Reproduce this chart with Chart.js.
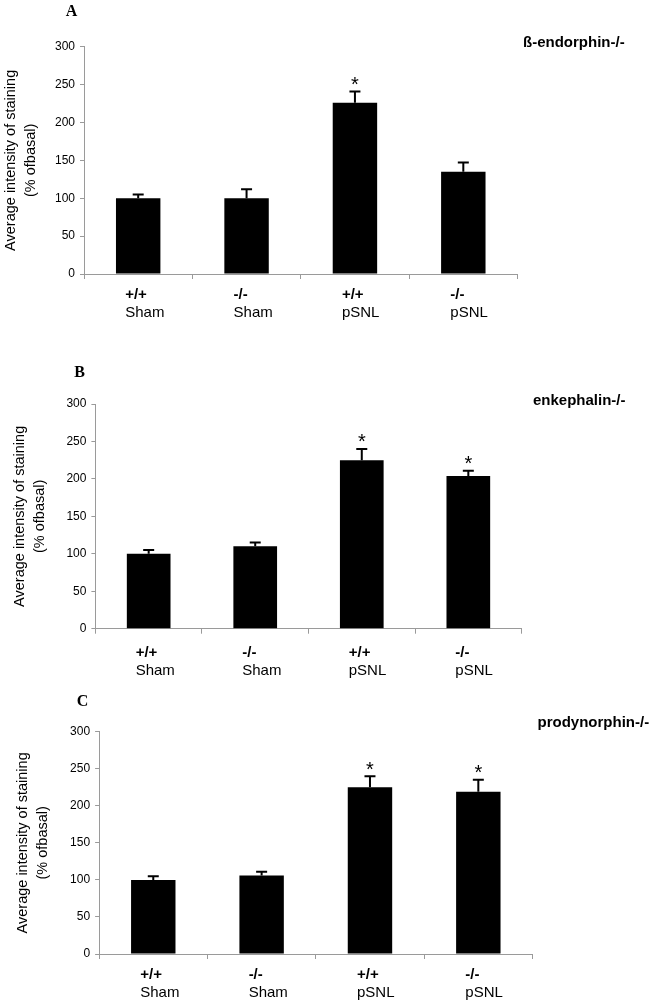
<!DOCTYPE html>
<html>
<head>
<meta charset="utf-8">
<script src="https://cdn.jsdelivr.net/npm/chart.js@4.4.1/dist/chart.umd.min.js"></script>
<style>
  body { margin: 0; background: #fff; }
  #wrap { position: relative; width: 651px; height: 1005px; overflow: hidden; }
  canvas { position: absolute; left: 0; }
</style>
</head>
<body>
<div id="wrap">
  <canvas id="panelA" width="651" height="330" style="top:0px"></canvas>
  <canvas id="panelB" width="651" height="360" style="top:330px"></canvas>
  <canvas id="panelC" width="651" height="335" style="top:670px"></canvas>
</div>
<script>
// categories
const genotypes = ["+/+", "-/-", "+/+", "-/-"];
const conditions = ["Sham", "Sham", "pSNL", "pSNL"];
const yTicks = [0, 50, 100, 150, 200, 250, 300];
const yTitle = ["Average intensity of staining", "(% ofbasal)"];

// A: ß-endorphin-/-
const meanA = [100, 100, 226, 135];
const semA = [5, 12, 15, 12];
const sigA = [false, false, true, false];

// B: enkephalin-/-
const meanB = [100, 110, 225, 204];
const semB = [5, 5, 15, 7];
const sigB = [false, false, true, true];

// C: prodynorphin-/-
const meanC = [100, 106, 225, 219];
const semC = [5, 5, 15, 16];
const sigC = [false, false, true, true];

const SANS = '"Liberation Sans", Arial, sans-serif';
const SERIF = '"Liberation Serif", "Times New Roman", serif';
const AXIS = "#9a9a9a";

// error bars, asterisks, x labels, panel letter and title
const panelDeco = {
  id: "panelDeco",
  afterDatasetsDraw(chart, args, opts) {
    const ctx = chart.ctx;
    const ds = chart.data.datasets[0];
    const meta = chart.getDatasetMeta(0);
    const y = chart.scales.y;
    ctx.save();
    ctx.strokeStyle = "#000";
    ctx.fillStyle = "#000";
    ctx.lineWidth = 2;
    meta.data.forEach((bar, i) => {
      const top = y.getPixelForValue(ds.data[i] + ds.sem[i]);
      ctx.beginPath();
      ctx.moveTo(bar.x, bar.y);
      ctx.lineTo(bar.x, top);
      ctx.moveTo(bar.x - 5.5, top);
      ctx.lineTo(bar.x + 5.5, top);
      ctx.stroke();
      if (ds.sig[i]) {
        const fs = 20;
        ctx.font = fs + "px " + SANS;
        ctx.textAlign = "center";
        ctx.textBaseline = "alphabetic";
        ctx.fillText("*", bar.x, top - 12 + 0.575 * fs);
      }
    });
    ctx.restore();
  },
  afterDraw(chart, args, opts) {
    const ctx = chart.ctx;
    const x = chart.scales.x;
    const bottom = chart.chartArea.bottom;
    ctx.save();
    ctx.fillStyle = "#000";
    ctx.textAlign = "left";
    ctx.textBaseline = "middle";
    genotypes.forEach((g, i) => {
      const px = x.getPixelForValue(i) - 13;
      ctx.font = "bold 15px " + SANS;
      ctx.fillText(g, px, bottom + opts.dy1);
      ctx.font = "15px " + SANS;
      ctx.fillText(conditions[i], px, bottom + opts.dy2);
    });
    ctx.font = "bold 16px " + SERIF;
    ctx.textAlign = "center";
    ctx.fillText(opts.letter, opts.letterX, opts.letterY);
    ctx.font = "bold 15px " + SANS;
    ctx.textAlign = "left";
    ctx.fillText(opts.title, opts.titleX, opts.titleY);
    ctx.restore();
  }
};

function makePanel(id, mean, sem, sig, lay) {
  const cv = document.getElementById(id);
  return new Chart(cv, {
    type: "bar",
    data: {
      labels: conditions,
      datasets: [{
        data: mean,
        sem: sem,
        sig: sig,
        backgroundColor: "#000",
        borderWidth: 0,
        barPercentage: 0.41,
        categoryPercentage: 1.0,
      }],
    },
    options: {
      responsive: false,
      devicePixelRatio: 1,
      animation: false,
      layout: {
        padding: { left: 0, right: 651 - lay.right, top: lay.top, bottom: 0 },
      },
      plugins: {
        legend: { display: false },
        tooltip: { enabled: false },
        panelDeco: lay.deco,
      },
      scales: {
        x: {
          offset: true,
          grid: {
            offset: true,
            drawOnChartArea: false,
            drawTicks: true,
            tickLength: 5,
            color: AXIS,
          },
          border: { display: true, color: AXIS, width: 1 },
          ticks: { display: false },
          afterFit(scale) { scale.height = cv.height - lay.bottom; },
        },
        y: {
          min: 0,
          max: 300,
          afterBuildTicks(scale) { scale.ticks = yTicks.map(v => ({ value: v })); },
          grid: {
            drawOnChartArea: false,
            drawTicks: true,
            tickLength: 4,
            color: AXIS,
          },
          border: { display: true, color: AXIS, width: 1 },
          ticks: {
            padding: 5,
            color: "#000",
            font: { family: SANS, size: 12 },
          },
          title: {
            display: true,
            text: yTitle,
            color: "#000",
            font: { family: SANS, size: 14.5, lineHeight: "20px" },
            padding: { top: lay.titlePad, bottom: 0 },
          },
          afterFit(scale) { scale.width = lay.left; },
        },
      },
    },
    plugins: [panelDeco],
  });
}

makePanel("panelA", meanA, semA, sigA, {
  left: 84, right: 517.5, top: 46.7, bottom: 274, titlePad: 0.5,
  deco: { letter: "A", letterX: 71.5, letterY: 12, title: "ß-endorphin-/-", titleX: 523, titleY: 43, dy1: 21, dy2: 39 },
});
makePanel("panelB", meanB, semB, sigB, {
  left: 95.4, right: 521.6, top: 74, bottom: 298.7, titlePad: 10,
  deco: { letter: "B", letterX: 79.5, letterY: 42.7, title: "enkephalin-/-", titleX: 533, titleY: 70.7, dy1: 24, dy2: 42 },
});
makePanel("panelC", meanC, semC, sigC, {
  left: 99.1, right: 532.5, top: 61.7, bottom: 284, titlePad: 13,
  deco: { letter: "C", letterX: 82.5, letterY: 31.7, title: "prodynorphin-/-", titleX: 537.5, titleY: 53.3, dy1: 21, dy2: 39.3 },
});
</script>
</body>
</html>
